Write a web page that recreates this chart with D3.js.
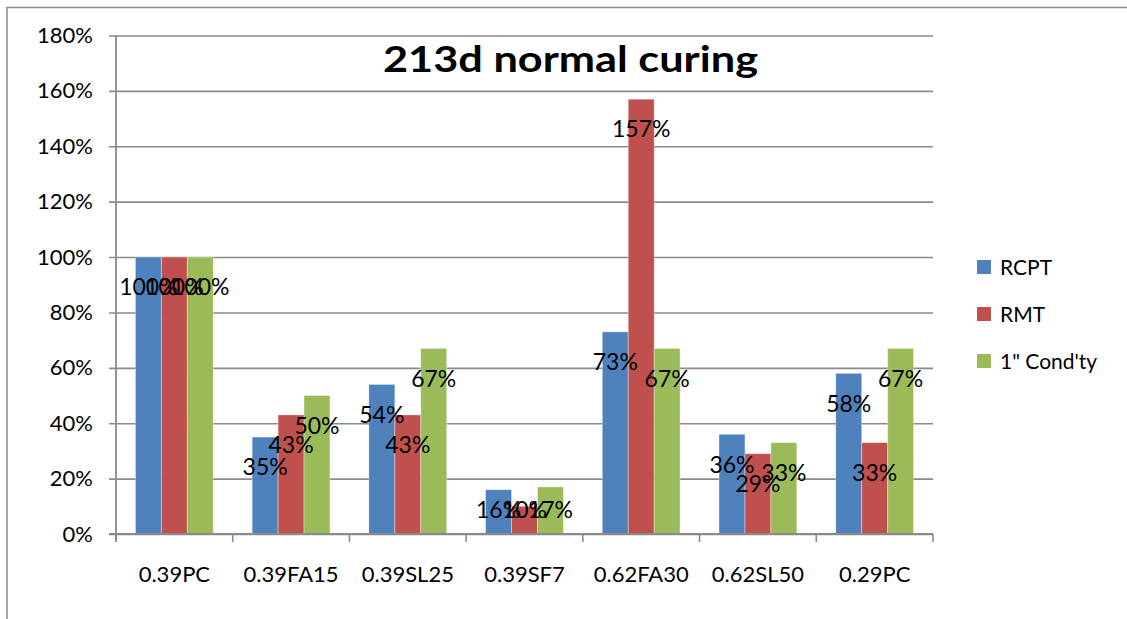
<!DOCTYPE html>
<html>
<head>
<meta charset="utf-8">
<script src="https://cdn.jsdelivr.net/npm/d3@7"></script>
<style>
  html, body { margin: 0; padding: 0; background: #fff; }
  svg { display: block; }
  text { font-family: Lato, "Liberation Sans", sans-serif; fill: #000; }
</style>
</head>
<body>
<div id="chart"></div>
<script>
const categories = ["0.39PC", "0.39FA15", "0.39SL25", "0.39SF7", "0.62FA30", "0.62SL50", "0.29PC"];
const seriesNames = ["RCPT", "RMT", "1\" Cond'ty"];
const rcpt = [100, 35, 54, 16, 73, 36, 58];
const rmt = [100, 43, 43, 10, 157, 29, 33];
const cond = [100, 50, 67, 17, 67, 33, 67];
const colors = ["#4F81BD", "#C0504D", "#9BBB59"];
const yTicks = [0, 20, 40, 60, 80, 100, 120, 140, 160, 180];
const title = "213d normal curing";

const W = 1127, H = 619;
const plot = { left: 116, right: 933, top: 35.5, bottom: 534 };

const svg = d3.select("#chart").append("svg").attr("width", W).attr("height", H);

// chart frame
svg.append("rect").attr("x", 7).attr("y", 7.5).attr("width", W + 20).attr("height", H + 20)
  .attr("fill", "none").attr("stroke", "#8a8a8a").attr("stroke-width", 1.5);

const x = d3.scaleBand().domain(categories).range([plot.left, plot.right]).paddingInner(0).paddingOuter(0);
const bw = x.bandwidth();
const barW = bw / 4.5;
const xSub = d3.scaleBand().domain(d3.range(3)).range([barW * 0.75, bw - barW * 0.75]).padding(0);
const y = d3.scaleLinear().domain([0, 180]).range([plot.bottom, plot.top]);

// gridlines + y axis
const yAxis = d3.axisLeft(y).tickValues(yTicks).tickFormat(d => d + "%")
  .tickSize(-(plot.right - plot.left)).tickPadding(23);
const gy = svg.append("g").attr("transform", `translate(${plot.left},0)`).call(yAxis);
gy.select(".domain").remove();
gy.selectAll(".tick line").attr("x1", -7).attr("stroke", "#8a8a8a").attr("stroke-width", 1.6);
gy.selectAll(".tick text").attr("font-size", 22).attr("font-family", "Lato, 'Liberation Sans', sans-serif");

// series data
const values = [rcpt, rmt, cond];
const bars = [];
categories.forEach((c, i) => values.forEach((arr, s) => bars.push({ c, s, v: arr[i] })));

svg.append("g").selectAll("rect").data(bars).join("rect")
  .attr("x", d => x(d.c) + xSub(d.s))
  .attr("width", xSub.bandwidth())
  .attr("y", d => y(d.v))
  .attr("height", d => y(0) - y(d.v))
  .attr("fill", d => colors[d.s])
  .attr("stroke", "rgba(255,255,255,0.35)")
  .attr("stroke-width", 1);

// x axis
const xAxis = d3.axisBottom(x).tickSize(0).tickPadding(32);
const gx = svg.append("g").attr("transform", `translate(0,${plot.bottom})`).call(xAxis);
gx.select(".domain").remove();
gx.selectAll(".tick text").attr("font-size", 22).attr("font-family", "Lato, 'Liberation Sans', sans-serif");
// category separator ticks
const sepX = categories.map(c => x(c)).concat([plot.right]);
svg.append("g").selectAll("line").data(sepX).join("line")
  .attr("x1", d => d).attr("x2", d => d)
  .attr("y1", plot.bottom).attr("y2", plot.bottom + 8)
  .attr("stroke", "#8a8a8a").attr("stroke-width", 1.6);
// axis lines
svg.append("line").attr("x1", plot.left - 7).attr("x2", plot.right)
  .attr("y1", plot.bottom).attr("y2", plot.bottom).attr("stroke", "#8a8a8a").attr("stroke-width", 1.8);
svg.append("line").attr("x1", plot.left).attr("x2", plot.left)
  .attr("y1", plot.top).attr("y2", plot.bottom + 8).attr("stroke", "#8a8a8a").attr("stroke-width", 1.8);

// data labels (inside end)
svg.append("g").selectAll("text").data(bars).join("text")
  .attr("x", d => x(d.c) + xSub(d.s) + xSub.bandwidth() / 2)
  .attr("y", d => Math.min(y(d.v) + 30, y(0) - 24))
  .attr("dy", "0.36em")
  .attr("text-anchor", "middle")
  .attr("font-size", 23)
  .text(d => d.v + "%");

// title
svg.append("text").attr("x", 383).attr("y", 72)
  .attr("font-size", 37).attr("font-weight", "bold")
  .attr("textLength", 375).attr("lengthAdjust", "spacingAndGlyphs")
  .text(title);

// legend
const lg = svg.append("g").attr("transform", "translate(977,260)");
const li = lg.selectAll("g").data(seriesNames).join("g")
  .attr("transform", (d, i) => `translate(0,${i * 47})`);
li.append("rect").attr("width", 14).attr("height", 14).attr("fill", (d, i) => colors[i]);
li.append("text").attr("x", 23).attr("y", 7).attr("dy", "0.36em").attr("font-size", 21).text(d => d);
</script>
</body>
</html>
